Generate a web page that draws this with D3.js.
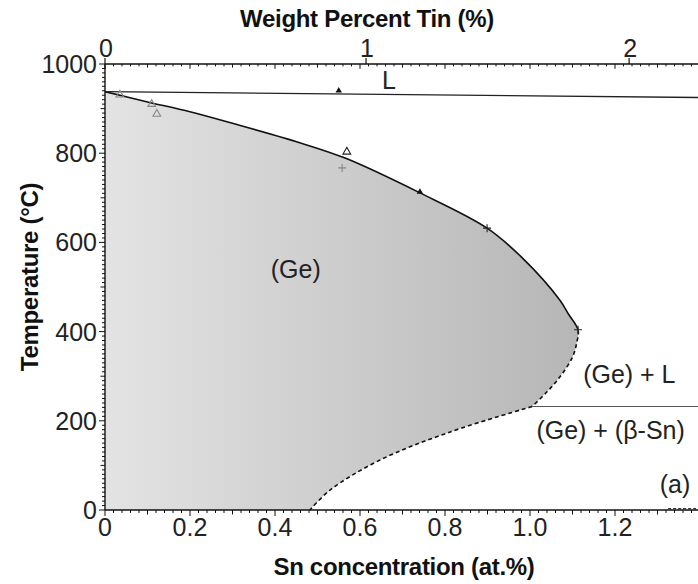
<!DOCTYPE html>
<html>
<head>
<meta charset="utf-8">
<script src="https://cdn.jsdelivr.net/npm/d3@7"></script>
<style>
  html, body { margin: 0; padding: 0; background: #fff; }
  svg { display: block; font-family: "Liberation Sans", Arial, sans-serif; }
</style>
</head>
<body>
<svg id="chart" width="698" height="584"></svg>
<script>
// Ge–Sn phase diagram, Ge-rich corner

// Solvus / solidus of (Ge): from the Ge melting point out to the retrograde nose and down to the eutectic
const upperBranchX = [0, 0.1, 0.2, 0.3, 0.46, 0.565, 0.741, 0.899, 0.98, 1.07, 1.09, 1.113, 1.11, 1.10, 1.07, 1.04, 1.005];
const upperBranchT = [938, 915, 893, 867, 823, 789, 711, 632, 567, 471, 440, 404, 375, 343, 298, 265, 232];
// Solvus below the eutectic temperature
const lowerBranchX = [1.005, 0.812, 0.647, 0.53, 0.482];
const lowerBranchT = [232, 175, 112, 45, 0];
// Temperature at which the solid boundary stops being measured (solid above, dashed below)
const measuredLimitT = 404;

// Liquidus (nearly flat over this range)
const liquidusX = [0, 1.4];
const liquidusT = [938, 925];
// Eutectic isotherm
const eutecticT = 232;
const eutecticStartX = 1.005;

// Measured points
const openTriX = [0.035, 0.11, 0.122, 0.569];
const openTriT = [931, 910, 888, 803];
const solidTriX = [0.55, 0.741];
const solidTriT = [938, 711];
const plusX = [0.558, 0.899, 1.113];
const plusT = [767, 632, 404];

// Axis ticks
const xTicks = [0, 0.2, 0.4, 0.6, 0.8, 1.0, 1.2];
const xTickLabels = ["0", "0.2", "0.4", "0.6", "0.8", "1.0", "1.2"];
const yTicks = [0, 200, 400, 600, 800, 1000];
const wtTicks = [0, 1, 2];

// Region labels
const regionLabels = [
  { text: "(Ge)", x: 0.39, t: 520, anchor: "start" },
  { text: "L", x: 0.652, t: 940, anchor: "start", dy: -2 },
  { text: "(Ge) + L", x: 1.125, t: 285, anchor: "start" },
  { text: "(Ge) + (β-Sn)", x: 1.015, t: 160, anchor: "start" },
  { text: "(a)", x: 1.377, t: 38, anchor: "end" }
];

const svg = d3.select("#chart");
const x = d3.scaleLinear().domain([0, 1.4]).range([105, 700]);
const y = d3.scaleLinear().domain([0, 1000]).range([510, 64]);

// weight % Sn -> atomic % Sn
const M_SN = 118.71, M_GE = 72.63;
const wtToAt = w => 100 * (w / M_SN) / (w / M_SN + (100 - w) / M_GE);

const defs = svg.append("defs");
const grad = defs.append("linearGradient")
  .attr("id", "geFill").attr("gradientUnits", "userSpaceOnUse")
  .attr("x1", x(0)).attr("x2", x(1.113)).attr("y1", 0).attr("y2", 0);
grad.append("stop").attr("offset", 0).attr("stop-color", "#e3e3e3");
grad.append("stop").attr("offset", 1).attr("stop-color", "#b6b6b6");

defs.append("clipPath").attr("id", "aboveLimit").append("rect")
  .attr("x", 0).attr("y", 0).attr("width", 698).attr("height", y(measuredLimitT));
defs.append("clipPath").attr("id", "belowLimit").append("rect")
  .attr("x", 0).attr("y", y(measuredLimitT)).attr("width", 698).attr("height", 584);

const curve = d3.line().x(d => x(d[0])).y(d => y(d[1])).curve(d3.curveCatmullRom.alpha(0.5));
const upperPts = upperBranchX.map((v, i) => [v, upperBranchT[i]]);
const lowerPts = lowerBranchX.map((v, i) => [v, lowerBranchT[i]]);
const upperD = curve(upperPts);
const lowerD = curve(lowerPts);

// (Ge) single-phase field
const fieldD = `M${x(0)},${y(0)}L` + upperD.slice(1) + "L" + lowerD.slice(1) + "Z";
svg.append("path").attr("d", fieldD).attr("fill", "url(#geFill)").attr("stroke", "none");

// Boundaries
svg.append("path").attr("d", upperD).attr("fill", "none")
  .attr("stroke", "#111").attr("stroke-width", 1.6).attr("clip-path", "url(#aboveLimit)");
svg.append("path").attr("d", upperD).attr("fill", "none")
  .attr("stroke", "#111").attr("stroke-width", 1.6).attr("stroke-dasharray", "4,3")
  .attr("clip-path", "url(#belowLimit)");
svg.append("path").attr("d", lowerD).attr("fill", "none")
  .attr("stroke", "#111").attr("stroke-width", 1.6).attr("stroke-dasharray", "4,3");

// Liquidus
svg.append("line")
  .attr("x1", x(liquidusX[0])).attr("y1", y(liquidusT[0]))
  .attr("x2", x(liquidusX[1])).attr("y2", y(liquidusT[1]))
  .attr("stroke", "#222").attr("stroke-width", 1.4);

// Eutectic isotherm
svg.append("line")
  .attr("x1", x(eutecticStartX)).attr("y1", y(eutecticT))
  .attr("x2", x(1.4)).attr("y2", y(eutecticT))
  .attr("stroke", "#555").attr("stroke-width", 1.1);

// Short dashed boundary near the Sn side at room temperature
svg.append("line")
  .attr("x1", x(1.325)).attr("y1", y(3)).attr("x2", x(1.4)).attr("y2", y(3))
  .attr("stroke", "#333").attr("stroke-width", 1.2).attr("stroke-dasharray", "3,2");

// Markers
const tri = d3.symbol().type(d3.symbolTriangle);
svg.selectAll(".otri").data(openTriX.map((v, i) => [v, openTriT[i]])).enter()
  .append("path").attr("d", tri.size(26)())
  .attr("transform", d => `translate(${x(d[0])},${y(d[1])})`)
  .attr("fill", "none").attr("stroke", d => d[0] > 0.3 ? "#222" : "#888").attr("stroke-width", 1.1);
svg.selectAll(".stri").data(solidTriX.map((v, i) => [v, solidTriT[i]])).enter()
  .append("path").attr("d", tri.size(18)())
  .attr("transform", d => `translate(${x(d[0])},${y(d[1]) - 1})`)
  .attr("fill", "#111");
svg.selectAll(".plus").data(plusX.map((v, i) => [v, plusT[i]])).enter()
  .append("path").attr("d", "M-4,0H4M0,-4V4")
  .attr("transform", d => `translate(${x(d[0])},${y(d[1])})`)
  .attr("stroke", (d, i) => i === 0 ? "#888" : "#222").attr("stroke-width", 1.1);

// Axes frame
const axisG = svg.append("g").attr("stroke", "#111");
axisG.append("line").attr("x1", x(0)).attr("x2", x(1.4)).attr("y1", y(0)).attr("y2", y(0)).attr("stroke-width", 1.4);
axisG.append("line").attr("x1", x(0)).attr("x2", x(1.4)).attr("y1", y(1000)).attr("y2", y(1000)).attr("stroke-width", 1.4);
axisG.append("line").attr("x1", x(0)).attr("x2", x(0)).attr("y1", y(0)).attr("y2", y(1000)).attr("stroke-width", 1.4);

// Left axis ticks (outward)
d3.range(0, 1001, 10).forEach(t => {
  const len = t % 200 === 0 ? 6 : (t % 100 === 0 ? 4.5 : 3);
  axisG.append("line").attr("x1", x(0) - len).attr("x2", x(0))
    .attr("y1", y(t)).attr("y2", y(t)).attr("stroke-width", 1);
});
// Bottom axis ticks (outward) and mirrored on top (inward)
d3.range(0, 71).map(i => i * 0.02).forEach((v, i) => {
  const len = i % 10 === 0 ? 6 : (i % 5 === 0 ? 4.5 : 3);
  axisG.append("line").attr("x1", x(v)).attr("x2", x(v))
    .attr("y1", y(0)).attr("y2", y(0) + len).attr("stroke-width", 1);
  axisG.append("line").attr("x1", x(v)).attr("x2", x(v))
    .attr("y1", y(1000)).attr("y2", y(1000) + len * 0.8).attr("stroke-width", 1);
});
// Top axis: weight-percent ticks (outward)
wtTicks.forEach(w => {
  axisG.append("line").attr("x1", x(wtToAt(w))).attr("x2", x(wtToAt(w)))
    .attr("y1", y(1000)).attr("y2", y(1000) - 6).attr("stroke-width", 1.2);
});

// Tick labels
const lab = svg.append("g").attr("fill", "#222").attr("font-size", 25);
yTicks.forEach(t => {
  lab.append("text").attr("x", 97).attr("y", y(t)).attr("dy", "0.36em")
    .attr("text-anchor", "end").text(t);
});
xTicks.forEach((v, i) => {
  lab.append("text").attr("x", x(v)).attr("y", 536)
    .attr("text-anchor", "middle").text(xTickLabels[i]);
});
wtTicks.forEach(w => {
  lab.append("text").attr("x", x(wtToAt(w)) + 1).attr("y", 57)
    .attr("text-anchor", "middle").text(w);
});

// Axis titles
const titles = svg.append("g").attr("fill", "#111").attr("font-weight", "bold").attr("font-size", 24);
titles.append("text").attr("x", 404).attr("y", 575).attr("text-anchor", "middle")
  .attr("letter-spacing", "-0.3").text("Sn concentration (at.%)");
titles.append("text").attr("x", 367).attr("y", 27).attr("text-anchor", "middle")
  .attr("letter-spacing", "-0.3").text("Weight Percent Tin (%)");
titles.append("text").attr("transform", "translate(38,277) rotate(-90)")
  .attr("text-anchor", "middle").attr("letter-spacing", "-0.3").text("Temperature (°C)");

// Region labels
const rl = svg.append("g").attr("fill", "#222").attr("font-size", 25);
regionLabels.forEach(d => {
  rl.append("text").attr("x", x(d.x)).attr("y", y(d.t) + (d.dy || 0))
    .attr("text-anchor", d.anchor).text(d.text);
});
</script>
</body>
</html>
